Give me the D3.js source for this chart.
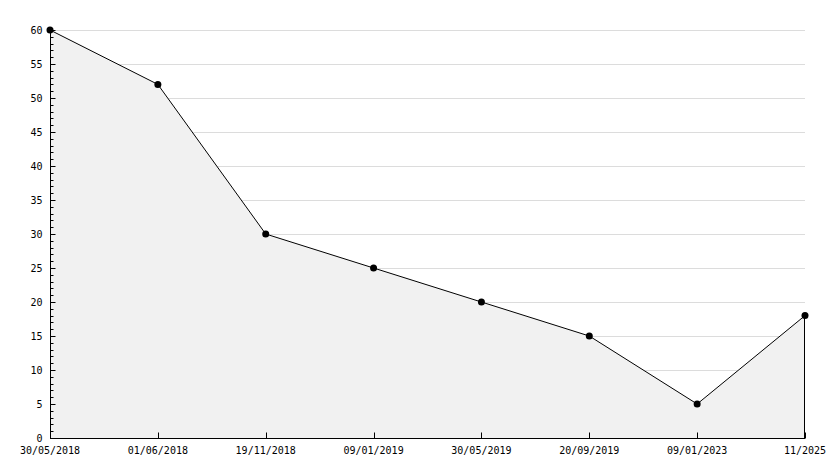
<!DOCTYPE html>
<html lang="en">
<head>
<meta charset="UTF-8">
<script src="https://cdnjs.cloudflare.com/ajax/libs/d3/7.8.5/d3.min.js"></script>
<style>
  body { margin: 0; background: #fff; }
  text { font-family: "DejaVu Sans Mono", monospace; font-size: 10px; fill: #000; }
</style>
</head>
<body>
<script>
    // chart data
    let dates = ["30/05/2018", "01/06/2018", "19/11/2018", "09/01/2019", "30/05/2019", "20/09/2019", "09/01/2023", "11/2025"];
    let values = [60, 52, 30, 25, 20, 15, 5, 18];
    let yTicks = [0, 5, 10, 15, 20, 25, 30, 35, 40, 45, 50, 55, 60];

    let margin = {top: 30, right: 29, bottom: 30, left: 50};
    let width = 834 - margin.left - margin.right;
    let height = 468 - margin.top - margin.bottom;

    let x = d3.scalePoint().domain(dates).range([0, width]);
    let y = d3.scaleLinear().domain([0, 60]).range([height, 0]);

    let svg = d3.select("body").append("svg")
        .attr("width", 834)
        .attr("height", 468)
        .append("g")
        .attr("transform", "translate(" + margin.left + "," + margin.top + ")");

    // grid lines
    svg.append("g").selectAll("line")
        .data(yTicks.filter(d => d > 0))
        .enter().append("line")
        .attr("x1", 0).attr("x2", width)
        .attr("y1", d => y(d) + 0.5).attr("y2", d => y(d) + 0.5)
        .attr("stroke", "#dcdcdc");

    // filled area
    let area = d3.area()
        .x(d => x(d.date))
        .y0(height)
        .y1(d => y(d.value));
    let pts = dates.map((d, i) => ({date: d, value: values[i]}));

    svg.append("path")
        .datum(pts)
        .attr("d", area)
        .attr("fill", "#f1f1f1");

    // right edge of the area
    svg.append("line")
        .attr("x1", x(dates[dates.length - 1]) - 0.5).attr("x2", x(dates[dates.length - 1]) - 0.5)
        .attr("y1", y(values[values.length - 1])).attr("y2", height)
        .attr("stroke", "#000");

    // data line
    svg.append("path")
        .datum(pts)
        .attr("d", d3.line().x(d => x(d.date)).y(d => y(d.value)))
        .attr("fill", "none")
        .attr("stroke", "#000")
        .attr("stroke-width", 1);

    // y axis, minor ticks every 1
    let yAxis = svg.append("g").attr("transform", "translate(0.5,0)");
    yAxis.append("line")
        .attr("x1", 0).attr("x2", 0)
        .attr("y1", 0).attr("y2", height)
        .attr("stroke", "#000");
    yAxis.selectAll("line.minor")
        .data(d3.range(0, 61))
        .enter().append("line")
        .attr("class", "minor")
        .attr("x1", 0)
        .attr("x2", d => d % 5 === 0 ? 5 : 3)
        .attr("y1", d => Math.round(y(d)) + 0.5)
        .attr("y2", d => Math.round(y(d)) + 0.5)
        .attr("stroke", "#000");
    yAxis.selectAll("text")
        .data(yTicks)
        .enter().append("text")
        .attr("x", -8)
        .attr("y", d => y(d))
        .attr("dy", "0.35em")
        .attr("text-anchor", "end")
        .text(d => d);

    // x axis
    let xAxis = svg.append("g").attr("transform", "translate(0," + (height + 0.5) + ")");
    xAxis.append("line")
        .attr("x1", 0).attr("x2", width)
        .attr("stroke", "#000");
    xAxis.selectAll("line.tick")
        .data(dates)
        .enter().append("line")
        .attr("class", "tick")
        .attr("x1", d => Math.round(x(d)) + 0.5)
        .attr("x2", d => Math.round(x(d)) + 0.5)
        .attr("y1", 0).attr("y2", -6)
        .attr("stroke", "#000");
    xAxis.selectAll("text")
        .data(dates)
        .enter().append("text")
        .attr("x", d => x(d))
        .attr("y", 15)
        .attr("text-anchor", "middle")
        .text(d => d);

    // markers
    svg.selectAll("circle")
        .data(pts)
        .enter().append("circle")
        .attr("cx", d => x(d.date))
        .attr("cy", d => y(d.value))
        .attr("r", 3.5)
        .attr("fill", "#000");
</script>
</body>
</html>
